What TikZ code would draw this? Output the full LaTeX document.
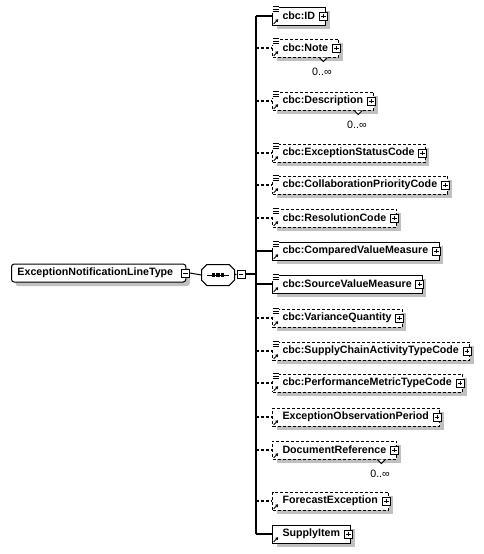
\documentclass[tikz,border=0pt]{standalone}
\usepackage{fontspec}
\setmainfont{Liberation Sans}
\usetikzlibrary{arrows.meta, shadows}
\definecolor{xsdshadow}{RGB}{192,192,192}

\begin{document}
\begin{tikzpicture}[x=0.75pt, y=-0.75pt, >=Stealth, line width=0.75pt,
  xbox/.style={draw, fill=white, anchor=west, minimum height=13.5pt,
    inner xsep=0pt, inner ysep=0pt,
    font=\fontsize{8}{9.6}\selectfont\bfseries,
    drop shadow={shadow xshift=3pt, shadow yshift=-3pt, fill=xsdshadow, opacity=1}},
  elem/.style={xbox,
    execute at begin node={\hspace*{7.5pt}},
    execute at end node={\hspace*{8pt}}},
  ctype/.style={xbox, rounded corners=2pt,
    execute at begin node={\hspace*{4.5pt}},
    execute at end node={\hspace*{9.5pt}}},
  req/.style={solid},
  opt/.style={dash pattern=on 2.25pt off 1.5pt},
  link/.style={line width=1.1pt},
  pm/.style={draw, solid, fill=white, minimum size=6pt, inner sep=0pt, line width=0.75pt},
  plus/.style={pm, path picture={
    \draw ([xshift=1.2pt]path picture bounding box.west) -- ([xshift=-1.2pt]path picture bounding box.east)
          ([yshift=-1.2pt]path picture bounding box.north) -- ([yshift=1.2pt]path picture bounding box.south);}},
  minus/.style={pm, path picture={
    \draw ([xshift=1.2pt]path picture bounding box.west) -- ([xshift=-1.2pt]path picture bounding box.east);}},
  mult/.style={font=\fontsize{8}{9.6}\selectfont}
]
\useasboundingbox (0,0) rectangle (483,554);

% === Tipo raiz y compositor ===
\node[ctype] (root) at (11,273) {ExceptionNotificationLineType};
\node[minus] (rootm) at ([xshift=-0.75pt]root.east) {};

\node[minimum width=24pt, minimum height=15pt, inner sep=0pt] (seq) at (218,275) {};
\fill[xsdshadow, shift={(3pt,-3pt)}]
  ([xshift=4pt]seq.north west) -- ([xshift=-4pt]seq.north east) -- ([yshift=-4pt]seq.north east)
  -- ([yshift=4pt]seq.south east) -- ([xshift=-4pt]seq.south east) -- ([xshift=4pt]seq.south west)
  -- ([yshift=4pt]seq.south west) -- ([yshift=-4pt]seq.north west) -- cycle;
\draw[fill=white]
  ([xshift=4pt]seq.north west) -- ([xshift=-4pt]seq.north east) -- ([yshift=-4pt]seq.north east)
  -- ([yshift=4pt]seq.south east) -- ([xshift=-4pt]seq.south east) -- ([xshift=4pt]seq.south west)
  -- ([yshift=4pt]seq.south west) -- ([yshift=-4pt]seq.north west) -- cycle;
\draw ([xshift=-8pt]seq.center) -- ([xshift=8pt]seq.center);
\foreach \d in {-3.2,0,3.2}
  \fill ([xshift=\d pt]seq.center) +(-1.2pt,-1.2pt) rectangle +(1.2pt,1.2pt);
\node[minus] (seqm) at (241,274) {};

% === Barra vertical ===
\coordinate (bartop) at (256,16);
\coordinate (barbot) at (256,534);
\draw[link] (bartop) -- (barbot);
\draw (rootm.east) -- (seq.west);
\draw (seq.east) -- (seqm.west);
\draw[link] (seqm.east) -- (bartop |- seqm.east);

% === Elementos hijos ===
\foreach \txt/\yy/\sty/\ico/\mx [count=\i] in {
    cbc:ID/16/req/1/0,
    cbc:Note/48/opt/1/1,
    cbc:Description/101/opt/1/1,
    cbc:ExceptionStatusCode/153/opt/1/0,
    cbc:CollaborationPriorityCode/185/opt/1/0,
    cbc:ResolutionCode/218/opt/1/0,
    cbc:ComparedValueMeasure/251/req/1/0,
    cbc:SourceValueMeasure/284/req/1/0,
    cbc:VarianceQuantity/318/opt/1/0,
    cbc:SupplyChainActivityTypeCode/351/opt/1/0,
    cbc:PerformanceMetricTypeCode/383/opt/1/0,
    ExceptionObservationPeriod/417/opt/0/0,
    DocumentReference/450/opt/0/1,
    ForecastException/501/opt/0/0,
    SupplyItem/534/req/0/0}
{
  \node[elem, \sty] (e\i) at (272,\yy) {\txt};
  \draw[link, \sty] (bartop |- e\i.west) -- (e\i.west);
  \node[plus] (p\i) at ([xshift=-2.25pt]e\i.east) {};
  % icono de tipo simple
  \ifnum\ico=1
    \fill[white] ([xshift=-0.6pt,yshift=0.8pt]e\i.north west) rectangle ([xshift=5.4pt,yshift=-4.6pt]e\i.north west);
    \foreach \k in {0,1,2}
      \draw[solid, line width=0.6pt] ([xshift=0.4pt,yshift={-0.2pt-\k*1.6pt}]e\i.north west) -- +(4.5pt,0);
  \fi
  % flecha de referencia
  \draw[solid, line width=0.7pt, -{Triangle[length=2pt, width=2.4pt]}]
    ([xshift=1.3pt,yshift=1.3pt]e\i.south west) -- +(3.4pt,3.4pt);
  % multiplicidad
  \ifnum\mx>0
    \draw[solid, fill=white] ([xshift=-15pt]e\i.south east) -- ++(3pt,-3pt) -- ++(3pt,3pt);
    \node[mult, anchor=north] (m\i) at ([xshift=-13pt,yshift=-4pt]e\i.south east) {0..∞};
  \fi
}

\end{tikzpicture}
\end{document}
